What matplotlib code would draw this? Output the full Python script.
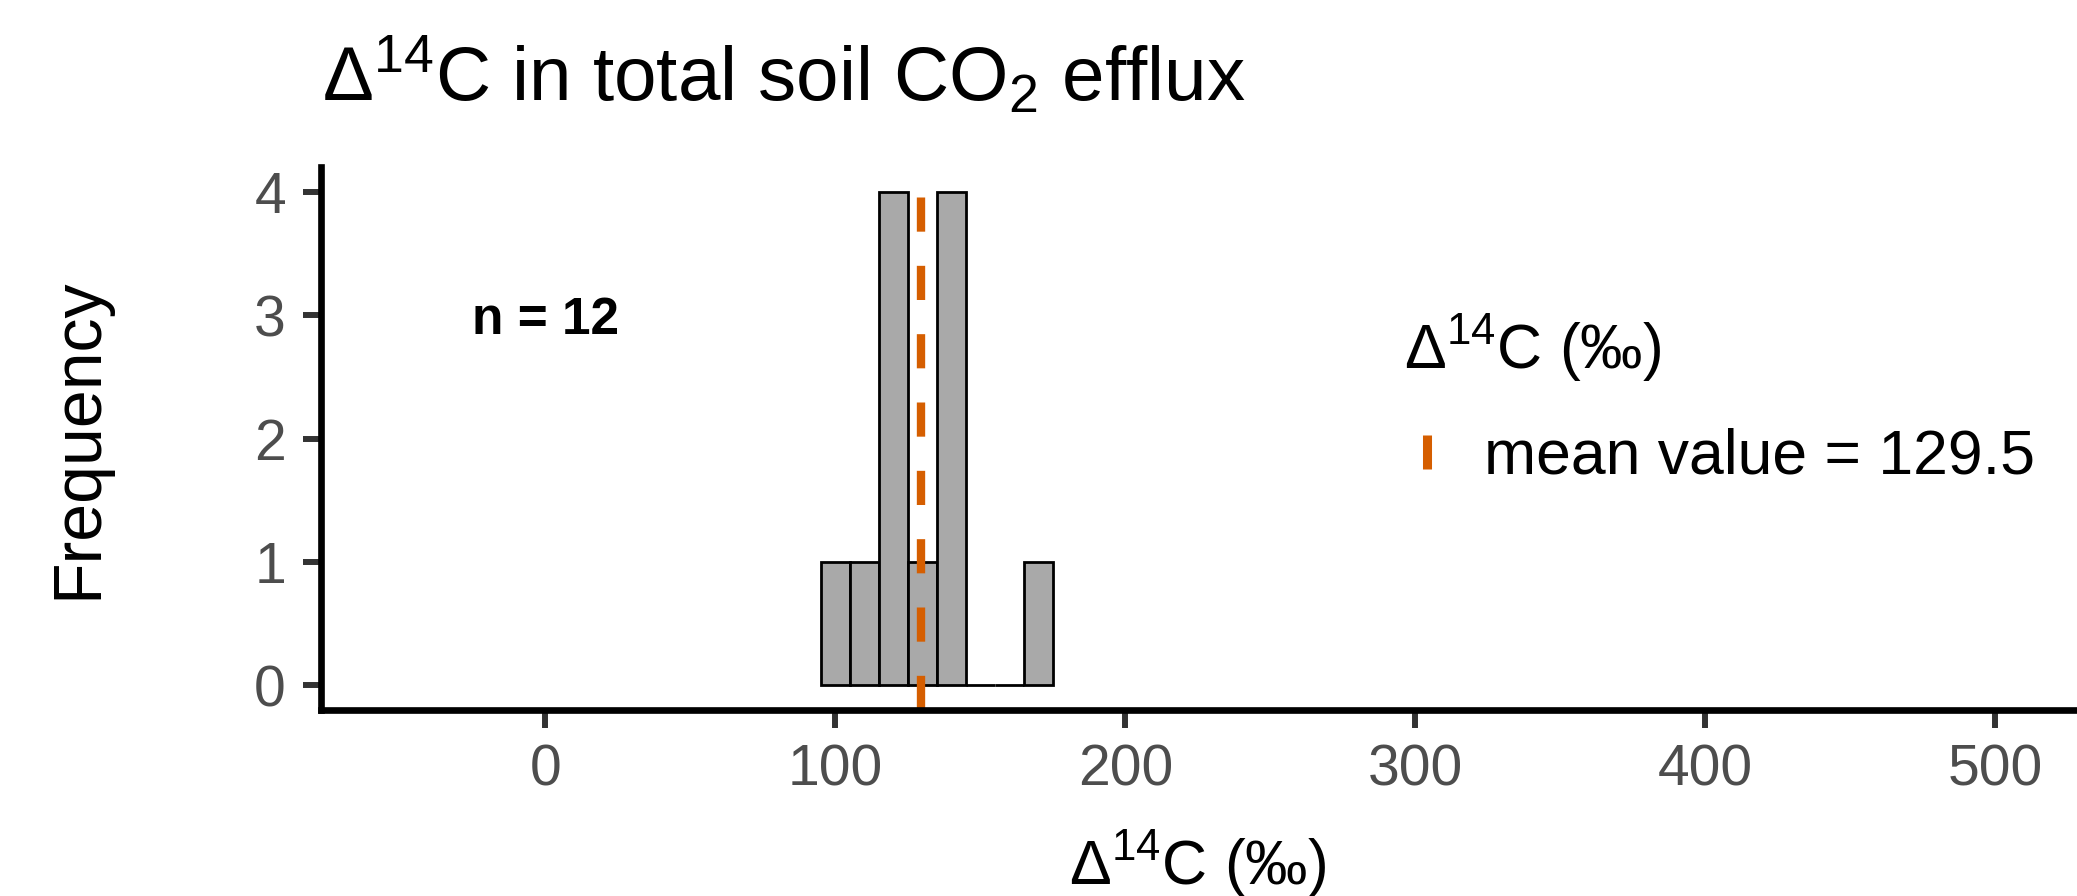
import matplotlib
matplotlib.use("Agg")
import matplotlib.pyplot as plt
from matplotlib.lines import Line2D

# Histogram of Δ14C values (bin width 10 ‰)
bin_edges = [95, 105, 115, 125, 135, 145, 155, 165, 175]
counts = [1, 1, 4, 1, 4, 0, 0, 1]
n_samples = 12
mean_value = 129.5

x_ticks = [0, 100, 200, 300, 400, 500]
y_ticks = [0, 1, 2, 3, 4]

plt.rcParams["font.family"] = ["Liberation Sans", "DejaVu Sans"]
plt.rcParams["mathtext.fontset"] = "custom"
plt.rcParams["mathtext.rm"] = "Liberation Sans"
plt.rcParams["mathtext.it"] = "Liberation Sans:italic"
plt.rcParams["mathtext.bf"] = "Liberation Sans:bold"

W, H = 2077, 896
fig = plt.figure(figsize=(W / 100, H / 100), dpi=100)
ax = fig.add_axes([320.7 / W, 1 - 710 / H, (2075 - 320.7) / W, (710 - 167.3) / H])

lefts = bin_edges[:-1]
widths = [b - a for a, b in zip(bin_edges[:-1], bin_edges[1:])]
ax.bar(lefts, counts, width=widths, align="edge", color="#A9A9A9",
       edgecolor="black", linewidth=2.0, zorder=2)

orange = "#D55E00"
ax.axvline(mean_value, color=orange, lw=6, linestyle=(0, (4.1, 4.1)), zorder=3)

ax.text(0, 3, f"n = {n_samples}", fontsize=37, fontweight="bold",
        ha="center", va="center_baseline", color="black")

ax.set_xlim(-77.5, 527.5)
ax.set_ylim(-0.2, 4.2)
ax.set_xticks(x_ticks)
ax.set_yticks(y_ticks)

for side in ["top", "right"]:
    ax.spines[side].set_visible(False)
for side in ["left", "bottom"]:
    ax.spines[side].set_linewidth(4.8)
    ax.spines[side].set_color("black")
    ax.spines[side].set_zorder(5)

ax.tick_params(axis="both", colors="#333333", length=13, width=4.3,
               labelsize=41, labelcolor="#4D4D4D")
ax.tick_params(axis="y", pad=12)
ax.tick_params(axis="x", pad=11)

# Titles
fig.text(322 / W, 1 - 101 / H, r"$\Delta^{14}$C in total soil CO$_2$ efflux",
         fontsize=55, ha="left", va="baseline")
fig.text(1198 / W, 1 - 884 / H, r"$\Delta^{14}$C (‰)", fontsize=45,
         ha="center", va="baseline")
fig.text(78 / W, 1 - 438.7 / H, "Frequency", fontsize=49, rotation=90,
         ha="center", va="center")

# Legend for the mean line
handle = Line2D([], [], color=orange, marker="|", linestyle="None",
                markersize=24, markeredgewidth=6.5)
leg = fig.legend(handles=[handle], labels=[f"mean value = {mean_value}"],
                 title=r"$\Delta^{14}$C (‰)", loc="upper left",
                 bbox_to_anchor=(1404 / W, 1 - 312 / H), frameon=False,
                 fontsize=45, title_fontsize=45, alignment="left",
                 handlelength=0.72, handletextpad=0.56, borderpad=0,
                 borderaxespad=0, labelspacing=0.7)

fig.savefig("out.png", dpi=100)
